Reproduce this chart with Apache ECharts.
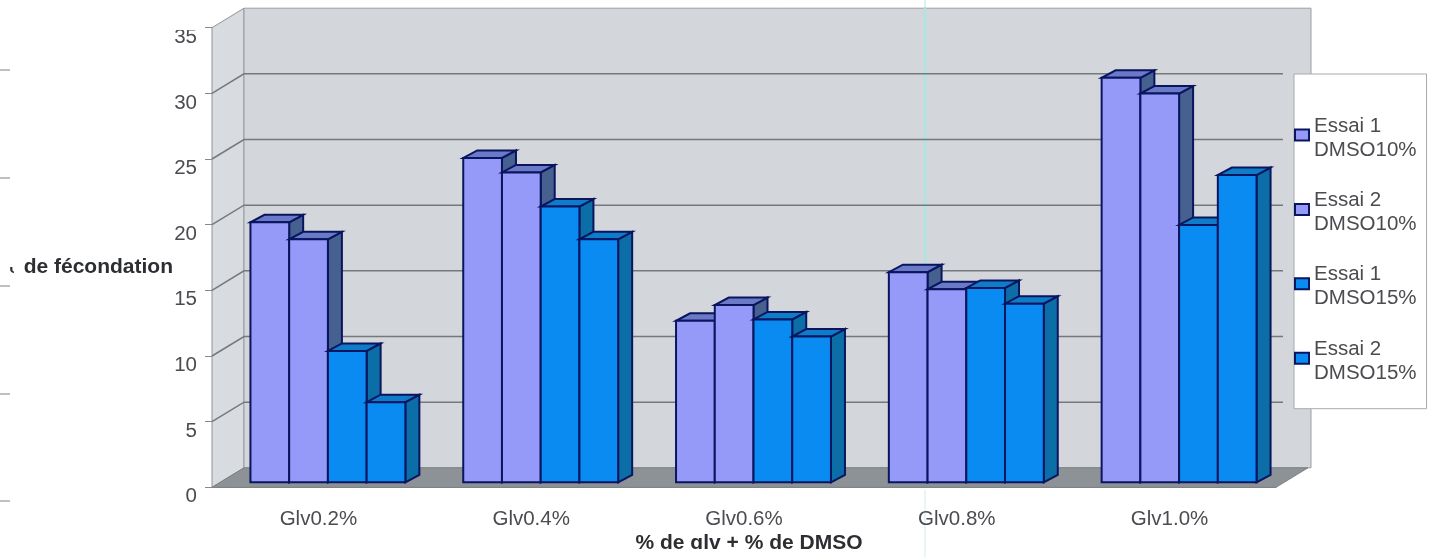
<!DOCTYPE html>
<html>
<head>
<meta charset="utf-8">
<style>
  html, body { margin: 0; padding: 0; background: #fff; }
  #chart { width: 1433px; height: 557px; filter: blur(0.5px); }
</style>
</head>
<body>
<div id="chart"></div>
<script src="https://cdn.jsdelivr.net/npm/echarts@6/dist/echarts.min.js"></script>
<script>
const categories = ['Glv0.2%', 'Glv0.4%', 'Glv0.6%', 'Glv0.8%', 'Glv1.0%']
const yTicks = [5, 10, 15, 20, 25, 30]
const essai1Dmso10 = [19.8, 24.7, 12.3, 16.0, 30.8]
const essai2Dmso10 = [18.5, 23.6, 13.5, 14.7, 29.6]
const essai1Dmso15 = [10.0, 21.0, 12.4, 14.8, 19.6]
const essai2Dmso15 = [6.1, 18.5, 11.1, 13.6, 23.4]

const font = '"Liberation Sans", Arial, sans-serif'
const textColor = '#4a4c50'
const outline = '#0a1560'
// 3d look: depth of the room and of the bars
const roomDx = 32
const roomDy = -19.5
const barDx = 14
const barDy = -7.5
const barShiftX = 9.5
const barShiftY = -5
const barRatio = 0.182
// scan leftovers at the left edge of the page
const edgeMarks = [70, 178, 286, 394, 501]

const purple = { front: '#9599f8', top: '#6b7ac6', side: '#46608f' }
const blue = { front: '#0a8bf2', top: '#0e7cc8', side: '#0b6ea6' }

function poly (points, fill, stroke, lineWidth) {
  return {
    type: 'polygon',
    shape: { points: points },
    style: { fill: fill, stroke: stroke, lineWidth: lineWidth }
  }
}

// back wall, left wall, floor and the grid lines
function renderRoom (params, api) {
  const c = params.coordSys
  const left = c.x
  const right = c.x + c.width
  const top = c.y
  const bottom = c.y + c.height
  const children = [
    poly([[left, bottom], [left + roomDx, bottom + roomDy], [left + roomDx, top + roomDy], [left, top]], '#d8dbdf', '#8f9396', 1),
    poly([[left + roomDx, bottom + roomDy], [right + 35, bottom + roomDy], [right + 35, top + roomDy], [left + roomDx, top + roomDy]], '#d3d7dc', '#9a9ea2', 1),
    poly([[left, bottom], [right, bottom], [right + roomDx, bottom + roomDy], [left + roomDx, bottom + roomDy]], '#8d9296', '#7d8286', 1)
  ]
  // scanner streak on the wall
  children.push({
    type: 'line',
    shape: { x1: 925, y1: top + roomDy, x2: 925, y2: bottom + roomDy },
    style: { stroke: '#b4e2e0', lineWidth: 3 }
  })
  yTicks.forEach(t => {
    const y = api.coord([0, t])[1]
    children.push({
      type: 'polyline',
      shape: { points: [[left, y], [left + roomDx, y + roomDy], [right + roomDx - 25, y + roomDy]] },
      style: { fill: null, stroke: '#75797d', lineWidth: 1.5 }
    })
  })
  return { type: 'group', children: children }
}

function barRenderer (slot, colors) {
  return function (params, api) {
    const base = api.coord([api.value(0), 0])
    const head = api.coord([api.value(0), api.value(1)])
    const w = api.size([1, 0])[0] * barRatio
    const x0 = base[0] + barShiftX + (slot - 2) * w
    const x1 = x0 + w
    const y0 = base[1] + barShiftY
    const y1 = head[1] + barShiftY
    return {
      type: 'group',
      children: [
        poly([[x1, y0], [x1 + barDx, y0 + barDy], [x1 + barDx, y1 + barDy], [x1, y1]], colors.side, outline, 2),
        poly([[x0, y1], [x1, y1], [x1 + barDx, y1 + barDy], [x0 + barDx, y1 + barDy]], colors.top, outline, 2),
        poly([[x0, y0], [x1, y0], [x1, y1], [x0, y1]], colors.front, outline, 2)
      ]
    }
  }
}

function barSeries (name, values, slot, colors) {
  return {
    name: name,
    type: 'custom',
    renderItem: barRenderer(slot, colors),
    clip: false,
    z: 3,
    silent: true,
    itemStyle: { color: colors.front, borderColor: outline, borderWidth: 1.5 },
    encode: { x: 0, y: 1 },
    data: values.map((v, i) => [i, v])
  }
}

const chart = echarts.init(document.getElementById('chart'))
chart.setOption({
  animation: false,
  backgroundColor: '#fff',
  grid: { left: 212, top: 27.7, width: 1064, height: 459.6, containLabel: false, outerBoundsMode: 'none' },
  legend: {
    left: 1294,
    top: 74,
    orient: 'vertical',
    padding: [34, 10, 25, 0],
    itemWidth: 14,
    itemHeight: 11,
    itemGap: 21.9,
    icon: 'rect',
    backgroundColor: '#fff',
    borderColor: '#a8aaac',
    borderWidth: 1,
    selectedMode: false,
    // blank first line pushes the text a bit below the marker, like the reference
    formatter: name => {
      const lines = name.split('\n')
      return '{s| }\n{t|' + lines[0] + '}\n{t|' + lines[1] + '}'
    },
    textStyle: {
      rich: {
        s: { fontSize: 1, height: 6, lineHeight: 6 },
        t: { fontFamily: font, fontSize: 20.5, lineHeight: 24, color: textColor }
      }
    },
    data: ['Essai 1\nDMSO10%', 'Essai 2\nDMSO10%', 'Essai 1\nDMSO15%', 'Essai 2\nDMSO15%']
  },
  xAxis: {
    type: 'category',
    data: categories,
    name: '% de glv + % de DMSO',
    nameLocation: 'middle',
    nameGap: 45,
    nameMoveOverlap: false,
    nameTextStyle: { fontFamily: font, fontSize: 21, fontWeight: 'bold', color: '#2c2e32', padding: [0, 0, 0, 10] },
    axisLine: { lineStyle: { color: '#85888c', width: 1 } },
    axisTick: { length: 7, alignWithLabel: false, lineStyle: { color: '#85888c' } },
    axisLabel: { fontFamily: font, fontSize: 20.5, color: textColor, margin: 22 },
    splitLine: { show: false }
  },
  yAxis: {
    type: 'value',
    min: 0,
    max: 35,
    interval: 5,
    name: '% de fécondation',
    nameLocation: 'middle',
    nameRotate: 0,
    nameGap: 39,
    nameMoveOverlap: false,
    nameTextStyle: { fontFamily: font, fontSize: 21, fontWeight: 'bold', color: '#2c2e32', verticalAlign: 'top', lineHeight: 20 },
    axisLine: { show: true, lineStyle: { color: '#85888c', width: 1 } },
    axisTick: { show: true, length: 7, lineStyle: { color: '#85888c' } },
    axisLabel: { fontFamily: font, fontSize: 20.5, color: textColor, margin: 15, verticalAlign: 'top', lineHeight: 19 },
    splitLine: { show: false }
  },
  graphic: [
    // the reference is cropped: % of the y title, top of 35, bottom of the x title
    { type: 'rect', z: 100, shape: { x: 0, y: 254, width: 23, height: 13 }, style: { fill: '#fff' } },
    { type: 'rect', z: 100, shape: { x: 0, y: 267, width: 10, height: 14 }, style: { fill: '#fff' } },
    { type: 'rect', z: 100, shape: { x: 14, y: 267, width: 9, height: 14 }, style: { fill: '#fff' } },
    { type: 'rect', z: 100, shape: { x: 170, y: 18, width: 34, height: 12 }, style: { fill: '#fff' } },
    { type: 'rect', z: 100, shape: { x: 600, y: 549, width: 300, height: 8 }, style: { fill: '#fff' } },
    { type: 'line', z: -1, shape: { x1: 925, y1: 0, x2: 925, y2: 8 }, style: { stroke: '#d8f3f1', lineWidth: 2 } },
    { type: 'line', z: -1, shape: { x1: 925, y1: 490, x2: 925, y2: 557 }, style: { stroke: '#e6f7f6', lineWidth: 2 } }
  ].concat(edgeMarks.map(y => ({
    type: 'line',
    shape: { x1: 0, y1: y, x2: 10, y2: y },
    style: { stroke: '#a9acaf', lineWidth: 1.5 }
  }))),
  series: [
    {
      type: 'custom',
      name: 'room',
      renderItem: renderRoom,
      clip: false,
      z: 1,
      silent: true,
      encode: { x: 0, y: 1 },
      data: [[0, 0]]
    },
    barSeries('Essai 1\nDMSO10%', essai1Dmso10, 0, purple),
    barSeries('Essai 2\nDMSO10%', essai2Dmso10, 1, purple),
    barSeries('Essai 1\nDMSO15%', essai1Dmso15, 2, blue),
    barSeries('Essai 2\nDMSO15%', essai2Dmso15, 3, blue)
  ]
})
</script>
</body>
</html>
